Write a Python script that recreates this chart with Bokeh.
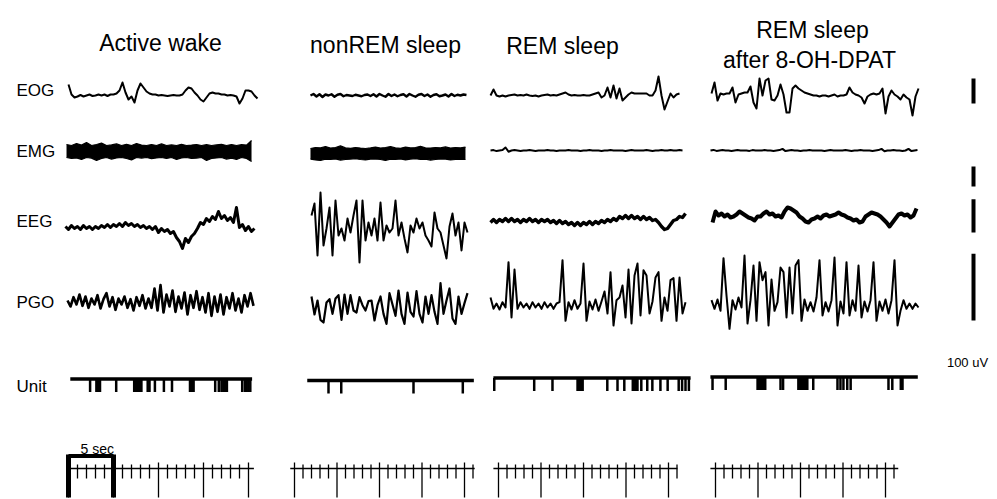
import numpy as np
from bokeh.plotting import figure
from bokeh.models import Range1d
from bokeh.core.properties import value
from bokeh.embed import file_html
from bokeh.resources import INLINE

# ---------------- data ----------------
titles = ["Active wake", "nonREM sleep", "REM sleep", "REM sleep", "after 8-OH-DPAT"]
row_labels = ["EOG", "EMG", "EEG", "PGO", "Unit"]
scale_label = "100 uV"
time_label = "5 sec"
scale_uv = 100          # height of each calibration bar, uV
bracket_sec = 5         # length of the time bracket, s

# EOG (uV), sampled evenly
eog_wake = [44, 4, -8, -4, 2, -4, 0, 4, -2, 0, 4, 0, 4, -2, 4, 4, 8, 20, 52, 12,
            -16, -4, -28, 20, 48, 32, 16, 8, 4, 4, 0, 2, 0, -2, 0, 2, 0, 0, 4, 20,
            32, 28, 12, 0, -16, -24, -8, 8, 12, 8, 8, 4, 4, 0, 2, 0, -4, -32, -12, 20,
            20, 16, 0, -12]
eog_nrem = [0, 6, -4, 5, -6, 4, 0, 5, -5, 3, 6, -3, 2, 0, -2, 3, 0, -3, 2, 4,
            -2, 5, -4, 6, 0, -5, 6, -2, 4, -3, 2, 5, -4, 6, 0, -5, 3, 6, -2, 4,
            -5, 2, 5, -3, 0, 4, -4, 6, -2, 3, 0, 4, 2]
eog_rem = [0, 24, 0, -4, 0, -4, 0, 2, 4, 0, 2, 0, 4, 0, -2, 0, -4, 0, 2, 4,
           0, 2, 0, 4, 8, 12, 4, 0, 2, 0, 0, 2, 0, 0, 4, 8, 12, -8, 0, 32,
           -8, 40, -12, 28, -20, -8, 4, 12, 8, 8, 8, 8, 8, 0, 0, 20, 76, 0, -56, -24,
           8, -8, 4, 8]
eog_dpat = [8, 52, -20, 8, 4, 8, 8, 32, -28, 4, 8, 12, 12, 36, -28, -52, 68, 0, 60, 68,
            -16, -20, 0, 44, 4, -68, -68, 28, 40, 28, 20, 12, 8, 4, 0, 0, -4, 0, 0, -4,
            0, 4, -4, 0, 0, 4, 32, 12, 4, 0, -8, -32, -4, 4, 8, 4, 8, 28, -72, -4,
            20, 4, -4, -16, 4, -8, -16, -80, -4, 28]

# EMG envelopes (uV) for the waking and nonREM traces, and the flat REM traces
emg_wake_hi = [35, 30, 40, 32, 45, 30, 35, 42, 30, 33, 38, 30, 36, 30, 40, 32, 30, 35, 30, 38,
               30, 33, 30, 36, 30, 32, 35, 30, 34, 30, 33, 36, 30, 35, 30, 34, 32, 55]
emg_wake_lo = [-30, -35, -32, -40, -30, -33, -45, -35, -30, -38, -32, -30, -35, -42, -30, -33, -30, -36, -32, -30,
               -35, -30, -40, -32, -30, -35, -33, -30, -45, -35, -32, -30, -38, -33, -40, -30, -35, -50]
emg_nrem_hi = [25, 30, 28, 35, 27, 30, 38, 28, 26, 30, 27, 25, 28, 32, 27, 30, 35, 28, 26, 32,
               28, 30, 36, 28, 27, 30, 28, 33, 27, 30, 28, 32]
emg_nrem_lo = [-28, -32, -35, -28, -30, -27, -33, -30, -28, -26, -30, -32, -28, -27, -30, -35, -28, -30, -27, -32,
               -28, -26, -30, -28, -33, -30, -27, -28, -32, -30, -28, -30]
emg_rem = [0, 2, -3, 0, 2, 15, -6, 0, 2, 0, -2, 0, 0, 2, 0, -2, 0, 0, 0, 2,
           0, 0, -2, 0, 0, 0, 2, 0, 0, 0, -2, 0, 0, 2, 0, 0, 0, -2, 0, 0,
           2, 0, 0, 0, 0, -2, 0, 2, 0, 0, 0, 0, 2, 0, -2, 0, 0, 2, 0, 0,
           3, 0, 0, 2, 0]
emg_dpat = [0, 3, -2, 0, 2, 0, 0, -2, 0, 2, 0, 0, 0, -2, 2, 0, 0, 0, 2, 0,
            0, -2, 0, 2, 8, -3, 0, 2, 0, 0, -2, 0, 0, 2, 0, 0, 0, 0, -2, 0,
            2, 0, 0, 0, 0, 2, 0, -2, 0, 0, 2, 0, 0, 0, -2, 0, 2, 8, -4, 0,
            0, 2, 0, 0, -2, 0, 8, -3, 0, 2]

# EEG (uV)
eeg_wake = [3, -6, 6, -3, 3, -6, 6, -3, 3, -6, 3, -3, 6, 0, 9, 0, 9, 3, 12, 3,
            15, 6, 12, 3, 9, 0, 6, -3, 3, -6, 3, -15, -3, -12, -6, -18, -12, -30, -42, -63,
            -33, -45, -27, -18, -3, 15, 9, 27, 18, 33, 24, 48, 27, 36, 21, 30, 15, 60, 0, 9,
            -9, 3, -12, -3]
eeg_nrem = [45, 81, -75, 114, -45, 6, 69, -75, 90, -15, 6, -30, 36, -6, 45, 90, -96, 90, -30, 24,
            -15, 36, -30, 84, -30, 15, -6, 6, 90, -15, 24, -24, -66, 15, -6, 36, 6, 24, -15, -30,
            -48, 54, 6, -6, -45, -84, 12, 51, -15, 24, -60, 24, -6]
eeg_rem = [-3, 6, -3, 6, 0, 9, 0, 9, 0, 6, -3, 6, 0, 9, 0, 6, -3, 6, 0, 6,
           -3, 3, -6, 3, -6, 0, -9, -3, -12, -3, -12, -3, -9, 0, -9, 0, -6, 3, -3, 6,
           0, 9, 3, 15, 9, 18, 9, 18, 9, 15, 6, 15, 6, 12, 3, 6, -3, -15, -24, -21,
           -9, 3, 6, 15, 12, 24]
eeg_dpat = [-18, 15, 3, 9, 0, 6, -3, 0, 6, 15, 9, 3, -3, -6, -12, 0, 0, 9, 15, 6,
            9, 0, 3, -3, 15, 27, 24, 18, 12, 0, -6, -15, -18, -9, -6, 0, -6, 3, 6, 0,
            3, 6, 12, 6, 3, -3, -6, -12, -9, -18, -15, 0, 6, 12, 9, 6, 0, -9, -18, -30,
            -18, -6, 6, 9, 3, 6, -3, 3, 24]

# PGO (uV)
pgo_wake = [3, -6, 8, -3, 12, -5, 9, -8, 6, -3, 11, -9, 5, 14, -6, 8, -11, 6, -3, 9,
            -8, 5, -12, 8, -5, 11, -9, 6, -8, 21, -12, 26, -15, 12, -6, 18, -14, 9, -9, 15,
            -18, 11, -8, 17, -11, 8, -15, 14, -20, 9, -14, 12, -18, 8, -9, 14, -12, 6, -15, 11,
            -6, 14, -5]
pgo_nrem = [18, -9, 12, -17, -21, 9, 14, -8, 15, 20, -17, 21, -8, 20, -3, -6, 17, 5, -3, 11,
            12, -18, 5, 18, -8, -23, 23, 6, -11, 27, -8, -23, 24, -5, -12, 26, -8, -21, 18, -8,
            20, -5, -23, 38, -8, 12, 30, -15, -23, 18, -8, 8, 23]
pgo_rem = [12, -5, 3, -6, 5, -3, 65, -18, 54, -5, 5, -3, 3, -5, 5, -3, 3, -5, 5, -3,
           3, -5, 3, 5, 68, -23, 5, -6, 8, -5, 3, 63, -23, 6, -6, 9, -8, 6, 21, -12,
           50, -30, 8, 12, 30, -18, 54, -27, 45, 63, -15, 53, 45, -12, 6, 42, 50, -23, 12, -8,
           38, 41, -23, 42, -12, 5]
pgo_dpat = [8, -5, 9, -8, 71, 15, -35, 8, -6, 12, -3, 75, -27, 8, 60, -23, 65, 38, 50, -30,
            39, -8, 5, 57, 50, -18, 57, -12, 60, 68, -23, 9, -8, 5, -9, 12, 68, -15, 5, -9,
            8, 72, -30, 6, -12, 65, -15, 8, -8, 60, -18, 6, -9, 8, 65, -23, 6, -8, 9, -12,
            8, 68, -30, -8, 8, -5, 3, -5, 3, -3]

# Unit spike times (s)
unit_wake = [2.4, 3.1, 3.2, 3.3, 3.4, 3.5, 5.3, 7.3, 7.4, 7.5, 7.6, 7.7, 7.8, 7.9, 8.0, 8.1,
             8.8, 9.0, 9.6, 10.6, 11.5, 13.5, 13.6, 13.7, 13.8, 13.9, 16.3, 16.7, 17.0, 17.2,
             17.4, 17.6, 19.3, 19.6, 19.8, 20.0, 20.2]
unit_nrem = [4.0, 5.5, 14.0, 19.8]
unit_rem = [-0.5, 4.2, 6.35, 9.3, 9.45, 9.6, 9.75, 9.9, 12.8, 14.0, 14.8, 15.8, 15.95, 16.1,
            16.25, 16.35, 16.8, 17.5, 18.1, 19.05, 19.9, 21.2, 21.6, 22.0, 22.4]
unit_dpat = [-0.35, 1.2, 4.95, 5.1, 5.25, 5.4, 5.55, 5.7, 5.85, 7.65, 7.95, 9.75, 9.9, 10.05,
             10.2, 10.35, 10.5, 10.65, 10.8, 11.5, 14.35, 14.7, 15.05, 15.5, 15.9, 20.35, 20.8,
             21.8, 22.0]

ruler_seconds = [20, 21, 21, 21]

# ---------------- layout ----------------
COLS = [dict(x0=68, pps=9.0), dict(x0=294, pps=8.5), dict(x0=498, pps=8.5), dict(x0=715, pps=8.5)]
DT = [3 / c["pps"] for c in COLS]            # sample spacing (s)
DT_ENV = [5 / c["pps"] for c in COLS]
GAIN = dict(EOG=0.25, EMG=0.2, EEG=0.333, PGO=0.667)  # px per uV
BASE = dict(EOG=[95, 95, 95, 95], EMG=[151, 153, 150, 150],
            EEG=[227, 230, 221, 216], PGO=[302, 308, 305, 305])
UNIT_BASE = [378.5, 380, 377.5, 376.5]
UNIT_SPAN = [(0.2, 20.4), (1.5, 21.1), (-0.6, 22.6), (-0.6, 23.8)]
RULER_Y = 468
RULER_SPAN = [(0, 20.6), (-0.5, 21.2), (-0.6, 21.05), (-0.6, 21.5)]

FONT = value("Liberation Sans")

p = figure(width=997, height=499, x_range=Range1d(0, 997), y_range=Range1d(499, 0),
           output_backend="svg", toolbar_location=None, min_border=0)
p.axis.visible = False
p.grid.visible = False
p.outline_line_color = None
p.background_fill_color = "white"
p.border_fill_color = "white"


def xs_of(col, t):
    c = COLS[col]
    return c["x0"] + c["pps"] * np.asarray(t, dtype=float)


def trace(col, row, t_start, vals, width, dt=None):
    dt = DT[col] if dt is None else dt
    t = t_start + dt * np.arange(len(vals))
    ys = BASE[row][col] - GAIN[row] * np.asarray(vals, dtype=float)
    p.line(xs_of(col, t), ys, line_color="black", line_width=width, line_join="round")


def emg_band(col, t_start, hi, lo):
    t = t_start + DT_ENV[col] * np.arange(len(hi))
    x = xs_of(col, t)
    y1 = BASE["EMG"][col] - GAIN["EMG"] * np.asarray(hi, dtype=float)
    y2 = BASE["EMG"][col] - GAIN["EMG"] * np.asarray(lo, dtype=float)
    p.varea(x=x, y1=y1, y2=y2, fill_color="black")
    p.line(x, y1, line_color="black", line_width=1.2)
    p.line(x, y2, line_color="black", line_width=1.2)


# EOG
trace(0, "EOG", 0.0, eog_wake, 2.0)
trace(1, "EOG", 1.88, eog_nrem, 2.4)
trace(2, "EOG", -0.94, eog_rem, 2.0)
trace(3, "EOG", -0.47, eog_dpat, 2.0)
# EMG
emg_band(0, -0.22, emg_wake_hi, emg_wake_lo)
emg_band(1, 1.88, emg_nrem_hi, emg_nrem_lo)
trace(2, "EMG", -0.94, emg_rem, 2.0)
trace(3, "EMG", -0.59, emg_dpat, 2.0)
# EEG
trace(0, "EEG", -0.34, eeg_wake, 3.0)
trace(1, "EEG", 2.0, eeg_nrem, 2.0)
trace(2, "EEG", -0.94, eeg_rem, 3.4)
trace(3, "EEG", -0.35, eeg_dpat, 4.0)
# PGO
trace(0, "PGO", -0.11, pgo_wake, 2.6)
trace(1, "PGO", 2.0, pgo_nrem, 2.2)
trace(2, "PGO", -0.94, pgo_rem, 2.0)
trace(3, "PGO", -0.47, pgo_dpat, 2.0)

# Unit rasters
for col, spikes in enumerate([unit_wake, unit_nrem, unit_rem, unit_dpat]):
    yb = UNIT_BASE[col]
    a, b = UNIT_SPAN[col]
    p.line(xs_of(col, [a, b]), [yb, yb], line_color="black", line_width=3.5)
    sx = xs_of(col, spikes)
    p.segment(x0=sx, y0=[yb] * len(sx), x1=sx, y1=[yb + 13] * len(sx),
              line_color="black", line_width=2.5)

# Time rulers
for col in range(4):
    a, b = RULER_SPAN[col]
    p.line(xs_of(col, [a, b]), [RULER_Y, RULER_Y], line_color="black", line_width=1.4)
    secs = np.arange(0, ruler_seconds[col] + 1)
    tx = xs_of(col, secs)
    long_ = secs % 5 == 0
    p.segment(x0=tx[~long_], y0=[RULER_Y - 4] * int((~long_).sum()), x1=tx[~long_],
              y1=[RULER_Y + 10] * int((~long_).sum()), line_color="black", line_width=1.3)
    p.segment(x0=tx[long_], y0=[RULER_Y - 6] * int(long_.sum()), x1=tx[long_],
              y1=[RULER_Y + 29] * int(long_.sum()), line_color="black", line_width=1.3)

# 5 s bracket
bx = xs_of(0, [0, bracket_sec])
p.line(bx, [455.5, 455.5], line_color="black", line_width=4)
p.segment(x0=bx, y0=[454, 454], x1=bx, y1=[497, 497], line_color="black", line_width=5)
p.text(x=[float(bx[0]) + 12], y=[448], text=[time_label], text_font=FONT, text_font_size="14px",
       text_align="left", text_baseline="middle", text_color="black")

# Calibration bars (100 uV per channel)
bar_bottom = dict(EOG=103, EMG=186, EEG=232, PGO=320)
for row in ["EOG", "EMG", "EEG", "PGO"]:
    yb = bar_bottom[row]
    p.segment(x0=[973], y0=[yb], x1=[973], y1=[yb - scale_uv * GAIN[row]],
              line_color="black", line_width=4)
p.text(x=[967], y=[362], text=[scale_label], text_font=FONT, text_font_size="13px",
       text_align="center", text_baseline="middle", text_color="black")

# Titles
p.text(x=[160, 385, 562, 812, 809], y=[42, 44, 45, 29, 59], text=titles, text_font=FONT,
       text_font_size="23px", text_align="center", text_baseline="middle", text_color="black")

# Row labels
p.text(x=[16] * 5, y=[90, 151, 221, 302, 386], text=row_labels, text_font=FONT,
       text_font_size="17px", text_align="left", text_baseline="middle", text_color="black")

open("out.html", "w").write(file_html(p, INLINE))
